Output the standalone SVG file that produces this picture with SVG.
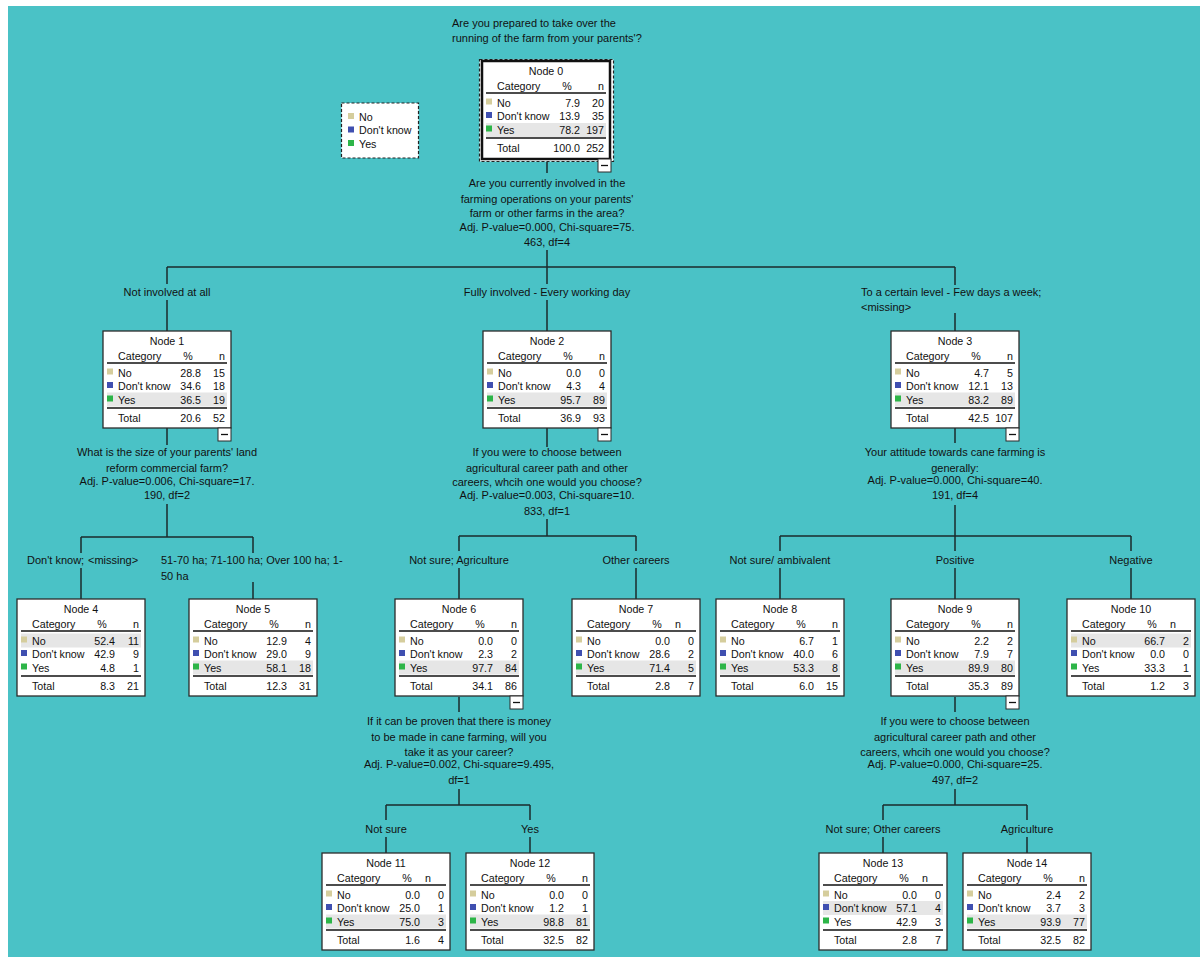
<svg xmlns="http://www.w3.org/2000/svg" xmlns:xlink="http://www.w3.org/1999/xlink" width="1200" height="957" viewBox="0 0 1200 957">
<style>
.t{font-family:"Liberation Sans",Arial,sans-serif;font-size:10.7px;fill:#111}
.q{font-family:"Liberation Sans",Arial,sans-serif;font-size:11px;fill:#111}
.m{text-anchor:middle}
.r{text-anchor:end}
.box{fill:#fff;stroke:#2b2b2b;stroke-width:1.3}
.hl{fill:#E6E6E6}
.sep{stroke:#111;stroke-width:1.5}
.c1{fill:#D5CD9C}
.c2{fill:#3F4FB0}
.c3{fill:#2DB548}
.conn{stroke:#1b2b2d;stroke-width:1.5;fill:none}
.dash{fill:#fff;stroke:#222;stroke-width:1.2;stroke-dasharray:3 2}
</style>
<defs>
<rect id="box" class="box" width="128" height="97"/>
<g id="frame">
<text class="t m" x="85" y="29">%</text>
<text class="t" x="15" y="29">Category</text>
<line class="sep" x1="4" y1="32" x2="124" y2="32"/>
<rect class="c1" x="4" y="37.5" width="6" height="6"/>
<rect class="c2" x="4" y="51" width="6" height="6"/>
<rect class="c3" x="4" y="64.5" width="6" height="6"/>
<text class="t" x="15" y="45.5">No</text>
<text class="t" x="15" y="59">Don't know</text>
<text class="t" x="15" y="72.5">Yes</text>
<line class="sep" x1="4" y1="77" x2="124" y2="77"/>
<text class="t" x="15" y="91">Total</text>
</g>
<g id="minus">
<rect width="13" height="13" fill="#fff" stroke="#2b2b2b" stroke-width="1"/>
<line x1="3" y1="6.5" x2="10" y2="6.5" stroke="#111" stroke-width="1.3"/>
</g>
</defs>
<rect x="0" y="0" width="1200" height="957" fill="#fff"/>
<rect x="8" y="6" width="1192" height="951" fill="#4AC2C6"/>

<g id="connectors">
<path class="conn" d="M547,162V173 M547,250V267 M167,267H955 M167,267V284 M167,300V331 M547,267V284 M547,300V331 M955,267V285 M955,313V331"/>
<path class="conn" d="M167,428V445 M167,504V537 M81,537H253 M81,537V553 M81,568V599 M253,537V553 M253,582V599"/>
<path class="conn" d="M547,428V447 M547,519V536 M459,536H636 M459,536V551 M459,568V599 M636,536V551 M636,568V599"/>
<path class="conn" d="M955,428V443 M955,505V536 M780,536H1131 M780,536V551 M780,568V599 M955,536V551 M955,568V599 M1131,536V551 M1131,568V599"/>
<path class="conn" d="M459,697V712 M459,789V805 M386,805H530 M386,805V820 M386,837V853 M530,805V820 M530,837V853"/>
<path class="conn" d="M955,697V712 M955,789V805 M883,805H1027 M883,805V820 M883,837V853 M1027,805V820 M1027,837V853"/>
</g>

<g id="labels">
<text class="q" x="452" y="27">Are you prepared to take over the</text>
<text class="q" x="452" y="42">running of the farm from your parents'?</text>
<text class="q m" x="547" y="187">Are you currently involved in the</text>
<text class="q m" x="547" y="203">farming operations on your parents'</text>
<text class="q m" x="547" y="217">farm or other farms in the area?</text>
<text class="q m" x="547" y="231">Adj. P-value=0.000, Chi-square=75.</text>
<text class="q m" x="547" y="246">463, df=4</text>
<text class="q m" x="167" y="296">Not involved at all</text>
<text class="q m" x="547" y="296">Fully involved - Every working day</text>
<text class="q" x="861" y="296">To a certain level - Few days a week;</text>
<text class="q" x="861" y="311">&lt;missing&gt;</text>
<text class="q m" x="167" y="456">What is the size of your parents' land</text>
<text class="q m" x="167" y="472">reform commercial farm?</text>
<text class="q m" x="167" y="485">Adj. P-value=0.006, Chi-square=17.</text>
<text class="q m" x="167" y="499">190, df=2</text>
<text class="q" x="27" y="564">Don't know;</text>
<text class="q" x="88" y="564">&lt;missing&gt;</text>
<text class="q" x="161" y="564">51-70 ha; 71-100 ha; Over 100 ha; 1-</text>
<text class="q" x="161" y="580">50 ha</text>
<text class="q m" x="547" y="456">If you were to choose between</text>
<text class="q m" x="547" y="472">agricultural career path and other</text>
<text class="q m" x="547" y="486">careers, whcih one would you choose?</text>
<text class="q m" x="547" y="499">Adj. P-value=0.003, Chi-square=10.</text>
<text class="q m" x="547" y="515">833, df=1</text>
<text class="q m" x="459" y="564">Not sure; Agriculture</text>
<text class="q m" x="636" y="564">Other careers</text>
<text class="q m" x="955" y="456">Your attitude towards cane farming is</text>
<text class="q m" x="955" y="472">generally:</text>
<text class="q m" x="955" y="484">Adj. P-value=0.000, Chi-square=40.</text>
<text class="q m" x="955" y="499">191, df=4</text>
<text class="q m" x="780" y="564">Not sure/ ambivalent</text>
<text class="q m" x="955" y="564">Positive</text>
<text class="q m" x="1131" y="564">Negative</text>
<text class="q m" x="459" y="725">If it can be proven that there is money</text>
<text class="q m" x="459" y="741">to be made in cane farming, will you</text>
<text class="q m" x="459" y="756">take it as your career?</text>
<text class="q m" x="459" y="768">Adj. P-value=0.002, Chi-square=9.495,</text>
<text class="q m" x="459" y="784">df=1</text>
<text class="q m" x="386" y="833">Not sure</text>
<text class="q m" x="530" y="833">Yes</text>
<text class="q m" x="955" y="725">If you were to choose between</text>
<text class="q m" x="955" y="741">agricultural career path and other</text>
<text class="q m" x="955" y="756">careers, whcih one would you choose?</text>
<text class="q m" x="955" y="768">Adj. P-value=0.000, Chi-square=25.</text>
<text class="q m" x="955" y="784">497, df=2</text>
<text class="q m" x="883" y="833">Not sure; Other careers</text>
<text class="q m" x="1027" y="833">Agriculture</text>
</g>

<g id="legend">
<rect class="dash" x="341.5" y="103" width="77" height="55"/>
<rect class="c1" x="348" y="113" width="6" height="6"/>
<rect class="c2" x="348" y="126.5" width="6" height="6"/>
<rect class="c3" x="348" y="140" width="6" height="6"/>
<text class="t" x="359" y="120.5">No</text>
<text class="t" x="359" y="134">Don't know</text>
<text class="t" x="359" y="147.5">Yes</text>
</g>

<g id="node0">
<rect class="dash" x="479.5" y="59.5" width="134" height="102"/>
<g transform="translate(482,61)">
<rect width="128" height="98" fill="#fff" stroke="#111" stroke-width="2.5"/>
<rect class="hl" x="4" y="62" width="120" height="14"/>
<use xlink:href="#frame"/>
<text class="t m" x="64" y="14">Node 0</text>
<text class="t m" x="119" y="29">n</text>
<text class="t r" x="98" y="45.5">7.9</text><text class="t r" x="122" y="45.5">20</text>
<text class="t r" x="98" y="59">13.9</text><text class="t r" x="122" y="59">35</text>
<text class="t r" x="98" y="72.5">78.2</text><text class="t r" x="122" y="72.5">197</text>
<text class="t r" x="98" y="91">100.0</text><text class="t r" x="122" y="91">252</text>
</g>
<use xlink:href="#minus" x="598" y="159"/>
</g>

<g id="node1" transform="translate(103,331)">
<use xlink:href="#box"/><rect class="hl" x="4" y="61.5" width="120" height="14"/><use xlink:href="#frame"/>
<text class="t m" x="64" y="14">Node 1</text><text class="t m" x="119" y="29">n</text>
<text class="t r" x="98" y="45.5">28.8</text><text class="t r" x="122" y="45.5">15</text>
<text class="t r" x="98" y="59">34.6</text><text class="t r" x="122" y="59">18</text>
<text class="t r" x="98" y="72.5">36.5</text><text class="t r" x="122" y="72.5">19</text>
<text class="t r" x="98" y="91">20.6</text><text class="t r" x="122" y="91">52</text>
<use xlink:href="#minus" x="115" y="97"/>
</g>

<g id="node2" transform="translate(483,331)">
<use xlink:href="#box"/><rect class="hl" x="4" y="61.5" width="120" height="14"/><use xlink:href="#frame"/>
<text class="t m" x="64" y="14">Node 2</text><text class="t m" x="119" y="29">n</text>
<text class="t r" x="98" y="45.5">0.0</text><text class="t r" x="122" y="45.5">0</text>
<text class="t r" x="98" y="59">4.3</text><text class="t r" x="122" y="59">4</text>
<text class="t r" x="98" y="72.5">95.7</text><text class="t r" x="122" y="72.5">89</text>
<text class="t r" x="98" y="91">36.9</text><text class="t r" x="122" y="91">93</text>
<use xlink:href="#minus" x="115" y="97"/>
</g>

<g id="node3" transform="translate(891,331)">
<use xlink:href="#box"/><rect class="hl" x="4" y="61.5" width="120" height="14"/><use xlink:href="#frame"/>
<text class="t m" x="64" y="14">Node 3</text><text class="t m" x="119" y="29">n</text>
<text class="t r" x="98" y="45.5">4.7</text><text class="t r" x="122" y="45.5">5</text>
<text class="t r" x="98" y="59">12.1</text><text class="t r" x="122" y="59">13</text>
<text class="t r" x="98" y="72.5">83.2</text><text class="t r" x="122" y="72.5">89</text>
<text class="t r" x="98" y="91">42.5</text><text class="t r" x="122" y="91">107</text>
<use xlink:href="#minus" x="115" y="97"/>
</g>

<g id="node4" transform="translate(17,599)">
<use xlink:href="#box"/><rect class="hl" x="4" y="34.5" width="120" height="14"/><use xlink:href="#frame"/>
<text class="t m" x="64" y="14">Node 4</text><text class="t m" x="119" y="29">n</text>
<text class="t r" x="98" y="45.5">52.4</text><text class="t r" x="122" y="45.5">11</text>
<text class="t r" x="98" y="59">42.9</text><text class="t r" x="122" y="59">9</text>
<text class="t r" x="98" y="72.5">4.8</text><text class="t r" x="122" y="72.5">1</text>
<text class="t r" x="98" y="91">8.3</text><text class="t r" x="122" y="91">21</text>
</g>

<g id="node5" transform="translate(189,599)">
<use xlink:href="#box"/><rect class="hl" x="4" y="61.5" width="120" height="14"/><use xlink:href="#frame"/>
<text class="t m" x="64" y="14">Node 5</text><text class="t m" x="119" y="29">n</text>
<text class="t r" x="98" y="45.5">12.9</text><text class="t r" x="122" y="45.5">4</text>
<text class="t r" x="98" y="59">29.0</text><text class="t r" x="122" y="59">9</text>
<text class="t r" x="98" y="72.5">58.1</text><text class="t r" x="122" y="72.5">18</text>
<text class="t r" x="98" y="91">12.3</text><text class="t r" x="122" y="91">31</text>
</g>

<g id="node6" transform="translate(395,599)">
<use xlink:href="#box"/><rect class="hl" x="4" y="61.5" width="120" height="14"/><use xlink:href="#frame"/>
<text class="t m" x="64" y="14">Node 6</text><text class="t m" x="119" y="29">n</text>
<text class="t r" x="98" y="45.5">0.0</text><text class="t r" x="122" y="45.5">0</text>
<text class="t r" x="98" y="59">2.3</text><text class="t r" x="122" y="59">2</text>
<text class="t r" x="98" y="72.5">97.7</text><text class="t r" x="122" y="72.5">84</text>
<text class="t r" x="98" y="91">34.1</text><text class="t r" x="122" y="91">86</text>
<use xlink:href="#minus" x="115" y="97"/>
</g>

<g id="node7" transform="translate(572,599)">
<use xlink:href="#box"/><rect class="hl" x="4" y="61.5" width="120" height="14"/><use xlink:href="#frame"/>
<text class="t m" x="64" y="14">Node 7</text><text class="t m" x="106" y="29">n</text>
<text class="t r" x="98" y="45.5">0.0</text><text class="t r" x="122" y="45.5">0</text>
<text class="t r" x="98" y="59">28.6</text><text class="t r" x="122" y="59">2</text>
<text class="t r" x="98" y="72.5">71.4</text><text class="t r" x="122" y="72.5">5</text>
<text class="t r" x="98" y="91">2.8</text><text class="t r" x="122" y="91">7</text>
</g>

<g id="node8" transform="translate(716,599)">
<use xlink:href="#box"/><rect class="hl" x="4" y="61.5" width="120" height="14"/><use xlink:href="#frame"/>
<text class="t m" x="64" y="14">Node 8</text><text class="t m" x="119" y="29">n</text>
<text class="t r" x="98" y="45.5">6.7</text><text class="t r" x="122" y="45.5">1</text>
<text class="t r" x="98" y="59">40.0</text><text class="t r" x="122" y="59">6</text>
<text class="t r" x="98" y="72.5">53.3</text><text class="t r" x="122" y="72.5">8</text>
<text class="t r" x="98" y="91">6.0</text><text class="t r" x="122" y="91">15</text>
</g>

<g id="node9" transform="translate(891,599)">
<use xlink:href="#box"/><rect class="hl" x="4" y="61.5" width="120" height="14"/><use xlink:href="#frame"/>
<text class="t m" x="64" y="14">Node 9</text><text class="t m" x="119" y="29">n</text>
<text class="t r" x="98" y="45.5">2.2</text><text class="t r" x="122" y="45.5">2</text>
<text class="t r" x="98" y="59">7.9</text><text class="t r" x="122" y="59">7</text>
<text class="t r" x="98" y="72.5">89.9</text><text class="t r" x="122" y="72.5">80</text>
<text class="t r" x="98" y="91">35.3</text><text class="t r" x="122" y="91">89</text>
<use xlink:href="#minus" x="115" y="97"/>
</g>

<g id="node10" transform="translate(1067,599)">
<use xlink:href="#box"/><rect class="hl" x="4" y="34.5" width="120" height="14"/><use xlink:href="#frame"/>
<text class="t m" x="64" y="14">Node 10</text><text class="t m" x="106" y="29">n</text>
<text class="t r" x="98" y="45.5">66.7</text><text class="t r" x="122" y="45.5">2</text>
<text class="t r" x="98" y="59">0.0</text><text class="t r" x="122" y="59">0</text>
<text class="t r" x="98" y="72.5">33.3</text><text class="t r" x="122" y="72.5">1</text>
<text class="t r" x="98" y="91">1.2</text><text class="t r" x="122" y="91">3</text>
</g>

<g id="node11" transform="translate(322,853)">
<use xlink:href="#box"/><rect class="hl" x="4" y="61.5" width="120" height="14"/><use xlink:href="#frame"/>
<text class="t m" x="64" y="14">Node 11</text><text class="t m" x="106" y="29">n</text>
<text class="t r" x="98" y="45.5">0.0</text><text class="t r" x="122" y="45.5">0</text>
<text class="t r" x="98" y="59">25.0</text><text class="t r" x="122" y="59">1</text>
<text class="t r" x="98" y="72.5">75.0</text><text class="t r" x="122" y="72.5">3</text>
<text class="t r" x="98" y="91">1.6</text><text class="t r" x="122" y="91">4</text>
</g>

<g id="node12" transform="translate(466,853)">
<use xlink:href="#box"/><rect class="hl" x="4" y="61.5" width="120" height="14"/><use xlink:href="#frame"/>
<text class="t m" x="64" y="14">Node 12</text><text class="t m" x="119" y="29">n</text>
<text class="t r" x="98" y="45.5">0.0</text><text class="t r" x="122" y="45.5">0</text>
<text class="t r" x="98" y="59">1.2</text><text class="t r" x="122" y="59">1</text>
<text class="t r" x="98" y="72.5">98.8</text><text class="t r" x="122" y="72.5">81</text>
<text class="t r" x="98" y="91">32.5</text><text class="t r" x="122" y="91">82</text>
</g>

<g id="node13" transform="translate(819,853)">
<use xlink:href="#box"/><rect class="hl" x="4" y="48" width="120" height="14"/><use xlink:href="#frame"/>
<text class="t m" x="64" y="14">Node 13</text><text class="t m" x="106" y="29">n</text>
<text class="t r" x="98" y="45.5">0.0</text><text class="t r" x="122" y="45.5">0</text>
<text class="t r" x="98" y="59">57.1</text><text class="t r" x="122" y="59">4</text>
<text class="t r" x="98" y="72.5">42.9</text><text class="t r" x="122" y="72.5">3</text>
<text class="t r" x="98" y="91">2.8</text><text class="t r" x="122" y="91">7</text>
</g>

<g id="node14" transform="translate(963,853)">
<use xlink:href="#box"/><rect class="hl" x="4" y="61.5" width="120" height="14"/><use xlink:href="#frame"/>
<text class="t m" x="64" y="14">Node 14</text><text class="t m" x="119" y="29">n</text>
<text class="t r" x="98" y="45.5">2.4</text><text class="t r" x="122" y="45.5">2</text>
<text class="t r" x="98" y="59">3.7</text><text class="t r" x="122" y="59">3</text>
<text class="t r" x="98" y="72.5">93.9</text><text class="t r" x="122" y="72.5">77</text>
<text class="t r" x="98" y="91">32.5</text><text class="t r" x="122" y="91">82</text>
</g>
</svg>
